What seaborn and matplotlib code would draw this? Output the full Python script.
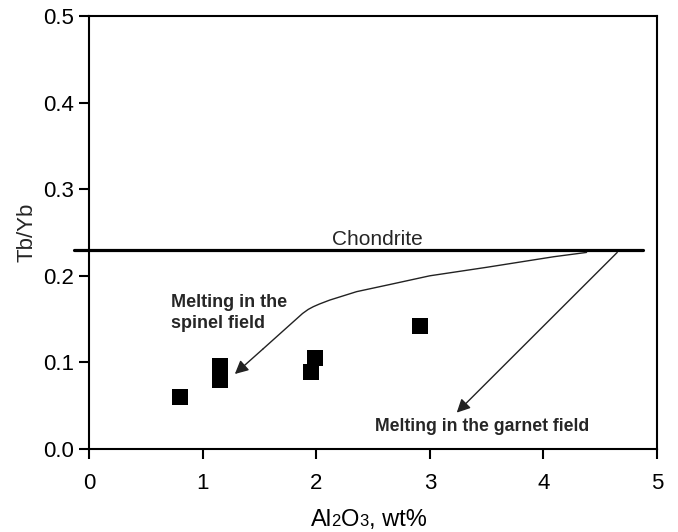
import matplotlib
matplotlib.use("Agg")
import matplotlib.pyplot as plt
import seaborn as sns
import pandas as pd
from matplotlib.offsetbox import TextArea, HPacker, AnchoredOffsetbox

# Data
al2o3 = [0.80, 1.155, 1.155, 1.95, 1.99, 2.91]
tb_yb = [0.060, 0.096, 0.080, 0.089, 0.105, 0.142]

chondrite_x = [-0.13, 4.88]
chondrite_y = [0.23, 0.23]

spinel_x = [4.38, 4.09, 3.50, 3.00, 2.65, 2.356, 2.12, 2.03, 1.974, 1.93, 1.88, 1.533]
spinel_y = [0.227, 0.222, 0.2098, 0.200, 0.190, 0.1817, 0.172, 0.1675, 0.1643, 0.1612, 0.1565, 0.1157]
spinel_tip = (1.284, 0.0866)

garnet_start = (4.65, 0.227)
garnet_tip = (3.237, 0.042)

xticks = [0, 1, 2, 3, 4, 5]
yticks = [0.0, 0.1, 0.2, 0.3, 0.4, 0.5]
ytick_labels = ["0.0", "0.1", "0.2", "0.3", "0.4", "0.5"]

sns.set_theme(style="ticks")
plt.rcParams["font.family"] = ["Liberation Sans", "DejaVu Sans"]

fig = plt.figure(figsize=(6.78, 5.32), dpi=100)
ax = fig.add_axes([89 / 678, (532 - 449) / 532, (657 - 89) / 678, (449 - 16) / 532])

df = pd.DataFrame({"x": al2o3, "y": tb_yb})
sns.scatterplot(data=df, x="x", y="y", marker="s", s=125, color="black",
                linewidth=0, ax=ax, zorder=3)

# Chondrite line (extends slightly beyond the left spine)
ax.plot(chondrite_x, chondrite_y, color="black", lw=2.3, clip_on=False, zorder=2)
ax.text(2.535, 0.236, "Chondrite", ha="center", va="baseline", fontsize=15)

# Spinel melting curve
ax.plot(spinel_x, spinel_y, color="#222222", lw=1.0, solid_joinstyle="round")
ax.annotate("", xy=spinel_tip, xytext=(spinel_x[-1], spinel_y[-1]),
            arrowprops=dict(arrowstyle="-|>", color="#222222", lw=1.0,
                            mutation_scale=20, shrinkA=0, shrinkB=0))

# Garnet melting arrow
ax.annotate("", xy=garnet_tip, xytext=garnet_start,
            arrowprops=dict(arrowstyle="-|>", color="#222222", lw=1.0,
                            mutation_scale=20, shrinkA=0, shrinkB=0))

ax.text(0.726, 0.157, "Melting in the\nspinel field", ha="left", va="center",
        fontsize=13, fontweight="bold", linespacing=1.25)
ax.text(2.516, 0.026, "Melting in the garnet field", ha="left", va="center",
        fontsize=12.7, fontweight="bold")

ax.set_xlim(0, 5)
ax.set_ylim(0, 0.5)
ax.set_xticks(xticks)
ax.set_yticks(yticks)
ax.set_yticklabels(ytick_labels)

for side in ["left", "right", "top", "bottom"]:
    ax.spines[side].set_visible(True)
    ax.spines[side].set_linewidth(1.5)
    ax.spines[side].set_color("black")

ax.tick_params(axis="both", direction="out", length=7, width=1.5, colors="black",
               labelsize=16, top=False, right=False)
ax.tick_params(axis="x", pad=10)
ax.tick_params(axis="y", pad=4)

# x label: "Al2O3, wt%" with small (non-lowered) digits as in the original
big = dict(fontsize=17, color="black", fontfamily="Liberation Sans")
small = dict(fontsize=12, color="black", fontfamily="Liberation Sans")
parts = [TextArea("Al", textprops=big), TextArea("2", textprops=small),
         TextArea("O", textprops=big), TextArea("3", textprops=small),
         TextArea(", wt%", textprops=big)]
pack = HPacker(children=parts, align="baseline", pad=0, sep=0)
box = AnchoredOffsetbox(loc="center", child=pack, bbox_to_anchor=(0.492, -0.163),
                        bbox_transform=ax.transAxes, frameon=False, pad=0, borderpad=0)
ax.add_artist(box)
ax.set_xlabel("")
ax.set_ylabel("Tb/Yb", fontsize=16, labelpad=4)

fig.savefig("out.png", dpi=100)
